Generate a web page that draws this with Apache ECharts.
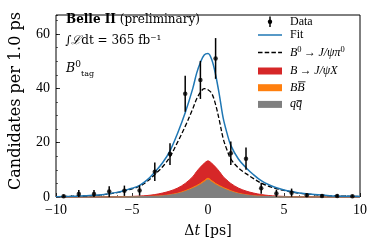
<!DOCTYPE html>
<html>
<head>
<meta charset="utf-8">
<script src="https://cdn.jsdelivr.net/npm/echarts@6/dist/echarts.min.js"></script>
<style>
html,body{margin:0;padding:0;background:#fff;}
#chart{width:374px;height:247px;}
</style>
</head>
<body>
<div id="chart"></div>
<script>
// ---- Data ----
const dataX   = [-9.5,-8.5,-7.5,-6.5,-5.5,-4.5,-3.5,-2.5,-1.5,-0.5,0.5,1.5,2.5,3.5,4.5,5.5,6.5,7.5,8.5,9.5];
const dataY   = [0.3,1.1,1.1,2.0,2.3,2.4,9.3,15.8,38.0,43.1,51.0,16.1,14.1,3.2,1.3,1.6,0.6,0.4,0.4,0.3];
const dataErr = [0.6,1.5,1.5,2.0,1.9,1.9,3.4,4.0,6.6,7.0,7.5,4.3,4.1,2.0,1.4,1.5,0.8,0.6,0.6,0.5];

const tGrid   = [-10,-9,-8,-7,-6,-5.5,-5,-4.5,-4,-3.5,-3,-2.5,-2,-1.5,-1,-0.75,-0.5,-0.25,0,0.25,0.5,0.75,1,1.25,1.5,2,2.5,3,3.5,4,4.5,5,5.5,6,7,8,9,10];
const fitVals = [0.12,0.25,0.45,0.8,1.7,2.4,3.2,4.3,6.3,9.2,12.5,17,23.5,31,40,45.5,49.5,52.3,52.8,50.5,45,37.5,29,23.5,19,14,10.8,8.2,6.0,4.5,3.4,2.6,2.0,1.5,0.9,0.5,0.3,0.2];
const sigVals = [0.1,0.24,0.43,0.76,1.6,2.26,3.0,3.95,5.75,8.3,11.05,14.8,20.2,26,32.5,36.1,38.5,39.9,39.5,38.1,34,28.1,21.5,17.3,14,10.7,8.6,6.75,5.1,3.95,3.05,2.4,1.86,1.4,0.86,0.48,0.29,0.2];
const jpsiXTop = [0,0.01,0.02,0.04,0.09,0.14,0.22,0.35,0.55,0.9,1.45,2.2,3.3,5.0,7.5,9.4,11,12.4,13.3,12.4,11,9.4,7.5,6.2,5.0,3.3,2.2,1.45,0.9,0.55,0.35,0.22,0.14,0.09,0.04,0.02,0.01,0];
const bbTop    = [0,0,0.01,0.02,0.03,0.05,0.08,0.12,0.2,0.3,0.5,0.85,1.4,2.3,3.5,4.2,5.0,6.0,6.9,6.0,5.0,4.2,3.5,2.9,2.3,1.4,0.85,0.5,0.3,0.2,0.12,0.08,0.05,0.03,0.02,0.01,0,0];
const qqTop    = [0,0,0,0.01,0.02,0.04,0.06,0.09,0.15,0.24,0.4,0.7,1.2,2.0,3.1,3.75,4.5,5.45,6.3,5.45,4.5,3.75,3.1,2.5,2.0,1.2,0.7,0.4,0.24,0.15,0.09,0.06,0.04,0.02,0.01,0,0,0];

const xTicks = [-10,-5,0,5,10];
const yTicks = [0,20,40,60];

// ---- Chart ----
const pair = (xs, ys) => xs.map((x, i) => [x, ys[i]]);
const minus = v => String(v).replace('-', '\u2212');
const serif = 'Liberation Serif';
const dserif = 'DejaVu Serif';
const LF = 12; // legend font size

const chart = echarts.init(document.getElementById('chart'), null, {renderer: 'canvas'});

const areaSeries = (name, vals, color, z) => ({
  name, type: 'line', data: pair(tGrid, vals), smooth: 0.35, showSymbol: false,
  lineStyle: {width: 1, color}, areaStyle: {color, opacity: 1}, itemStyle: {color}, z, silent: true
});

chart.setOption({
  animation: false,
  grid: {left: 51, right: 14, top: 15, bottom: 50, show: true, borderColor: '#000', borderWidth: 1, backgroundColor: 'transparent'},
  xAxis: {
    type: 'value', min: -10, max: 10, interval: 5,
    axisLine: {show: false, onZero: false},
    axisTick: {show: true, inside: true, length: 4, lineStyle: {color: '#000', width: 0.8}},
    minorTick: {show: true, splitNumber: 5, length: 2, lineStyle: {color: '#000', width: 0.6}},
    splitLine: {show: false},
    axisLabel: {fontFamily: serif, fontSize: 14, color: '#000', margin: 6, formatter: minus},
    name: 'Δ{i|t} [ps]', nameLocation: 'middle', nameGap: 27,
    nameTextStyle: {fontFamily: dserif, fontSize: 14, color: '#000', rich: {i: {fontFamily: dserif, fontSize: 14, fontStyle: 'italic'}}}
  },
  yAxis: [{
    type: 'value', min: 0, max: 67, interval: 20,
    axisLine: {show: false, onZero: false},
    axisTick: {show: true, inside: true, length: 4, lineStyle: {color: '#000', width: 0.8}},
    splitLine: {show: false},
    axisLabel: {fontFamily: serif, fontSize: 14, color: '#000', margin: 6, showMaxLabel: false, formatter: minus},
    name: 'Candidates per 1.0 ps', nameLocation: 'middle', nameGap: 32,
    nameTextStyle: {fontFamily: dserif, fontSize: 16, color: '#000', padding: [0, 0, 0, 10]}
  }, {
    type: 'value', min: 0, max: 67, interval: 5, position: 'left',
    axisLine: {show: false, onZero: false}, splitLine: {show: false}, axisLabel: {show: false},
    axisTick: {show: true, inside: true, length: 2, lineStyle: {color: '#000', width: 0.6}}
  }],
  series: [
    areaSeries('B → J/ψX', jpsiXTop, '#d62728', 1),
    areaSeries('BB̄', bbTop, '#ff7f0e', 2),
    areaSeries('qq̄', qqTop, '#7f7f7f', 3),
    {name: 'signal', type: 'line', data: pair(tGrid, sigVals), smooth: 0.35, showSymbol: false,
     lineStyle: {color: '#000', width: 1.3, type: [4.5, 2.2]}, z: 4, silent: true},
    {name: 'Fit', type: 'line', data: pair(tGrid, fitVals), smooth: 0.35, showSymbol: false,
     lineStyle: {color: '#1f77b4', width: 1.5}, z: 5, silent: true},
    {name: 'Data-err', type: 'custom', clip: true, z: 6, silent: true,
     data: dataX.map((x, i) => [x, dataY[i] - dataErr[i], dataY[i] + dataErr[i]]),
     encode: {x: 0, y: [1, 2]},
     renderItem: (params, api) => {
       const lo = api.coord([api.value(0), Math.max(0, api.value(1))]);
       const hi = api.coord([api.value(0), api.value(2)]);
       return {type: 'line', shape: {x1: lo[0], y1: lo[1], x2: hi[0], y2: hi[1]}, style: {stroke: '#000', lineWidth: 1.5}};
     }},
    {name: 'Data', type: 'scatter', data: pair(dataX, dataY), symbol: 'circle', symbolSize: 4.5,
     itemStyle: {color: '#000'}, z: 7, silent: true}
  ],
  graphic: [
    // annotations
    {type: 'text', left: 66, top: 14, style: {
      text: '{b|Belle II} (preliminary)', fontFamily: dserif, fontSize: 12, fill: '#000',
      rich: {b: {fontFamily: dserif, fontSize: 12, fontWeight: 'bold'}}}},
    {type: 'text', left: 65, top: 35, style: {
      text: '∫{s|ℒ}dt = 365 fb⁻¹', fontFamily: dserif, fontSize: 12, fill: '#000',
      rich: {s: {fontFamily: dserif, fontSize: 12, fontStyle: 'italic'}}}},
    {type: 'text', left: 66, top: 60, style: {
      text: '{i|B}{sup|0}{sub|tag}', fontFamily: dserif, fill: '#000',
      rich: {
        i: {fontFamily: dserif, fontSize: 12.5, fontStyle: 'italic', lineHeight: 18},
        sup: {fontFamily: dserif, fontSize: 9, verticalAlign: 'top', lineHeight: 10},
        sub: {fontFamily: dserif, fontSize: 8, verticalAlign: 'bottom', lineHeight: 10}
      }}},
    // legend icons
    {type: 'line', shape: {x1: 270, y1: 16.5, x2: 270, y2: 27}, style: {stroke: '#000', lineWidth: 1.5}},
    {type: 'circle', shape: {cx: 270, cy: 21.7, r: 2.2}, style: {fill: '#000'}},
    {type: 'line', shape: {x1: 258, y1: 35, x2: 282, y2: 35}, style: {stroke: '#1f77b4', lineWidth: 1.5}},
    {type: 'line', shape: {x1: 258, y1: 52.5, x2: 282, y2: 52.5}, style: {stroke: '#000', lineWidth: 1.3, lineDash: [4.5, 2.2]}},
    {type: 'rect', shape: {x: 258, y: 67.5, width: 24, height: 7}, style: {fill: '#d62728'}},
    {type: 'rect', shape: {x: 258, y: 84.2, width: 24, height: 7}, style: {fill: '#ff7f0e'}},
    {type: 'rect', shape: {x: 258, y: 100.9, width: 24, height: 7}, style: {fill: '#7f7f7f'}},
    // legend texts
    {type: 'text', x: 290, y: 21.7, style: {text: 'Data', fontFamily: serif, fontSize: LF, fill: '#000', verticalAlign: 'middle'}},
    {type: 'text', x: 290, y: 35, style: {text: 'Fit', fontFamily: serif, fontSize: LF, fill: '#000', verticalAlign: 'middle'}},
    {type: 'text', x: 290, y: 52.5, style: {text: '{i|B}{sup|0}\u2009→\u2009{i|J/ψπ}{sup|0}', fontFamily: serif, fontSize: LF, fill: '#000', verticalAlign: 'middle',
      rich: {i: {fontFamily: serif, fontSize: LF, fontStyle: 'italic', lineHeight: 15}, sup: {fontFamily: serif, fontSize: 8.5, verticalAlign: 'top', lineHeight: 9}}}},
    {type: 'text', x: 290, y: 71, style: {text: '{i|B}\u2009→\u2009{i|J/ψX}', fontFamily: serif, fontSize: LF, fill: '#000', verticalAlign: 'middle',
      rich: {i: {fontFamily: serif, fontSize: LF, fontStyle: 'italic'}}}},
    {type: 'text', x: 290, y: 87.7, style: {text: 'BB', fontFamily: serif, fontSize: LF, fontStyle: 'italic', fill: '#000', verticalAlign: 'middle'}},
    {type: 'line', shape: {x1: 298, y1: 81.8, x2: 305.5, y2: 81.8}, style: {stroke: '#000', lineWidth: 0.8}},
    {type: 'text', x: 290, y: 104.3, style: {text: 'qq', fontFamily: serif, fontSize: LF, fontStyle: 'italic', fill: '#000', verticalAlign: 'middle'}},
    {type: 'line', shape: {x1: 296.5, y1: 100.6, x2: 302, y2: 100.6}, style: {stroke: '#000', lineWidth: 0.8}}
  ]
});
</script>
</body>
</html>
